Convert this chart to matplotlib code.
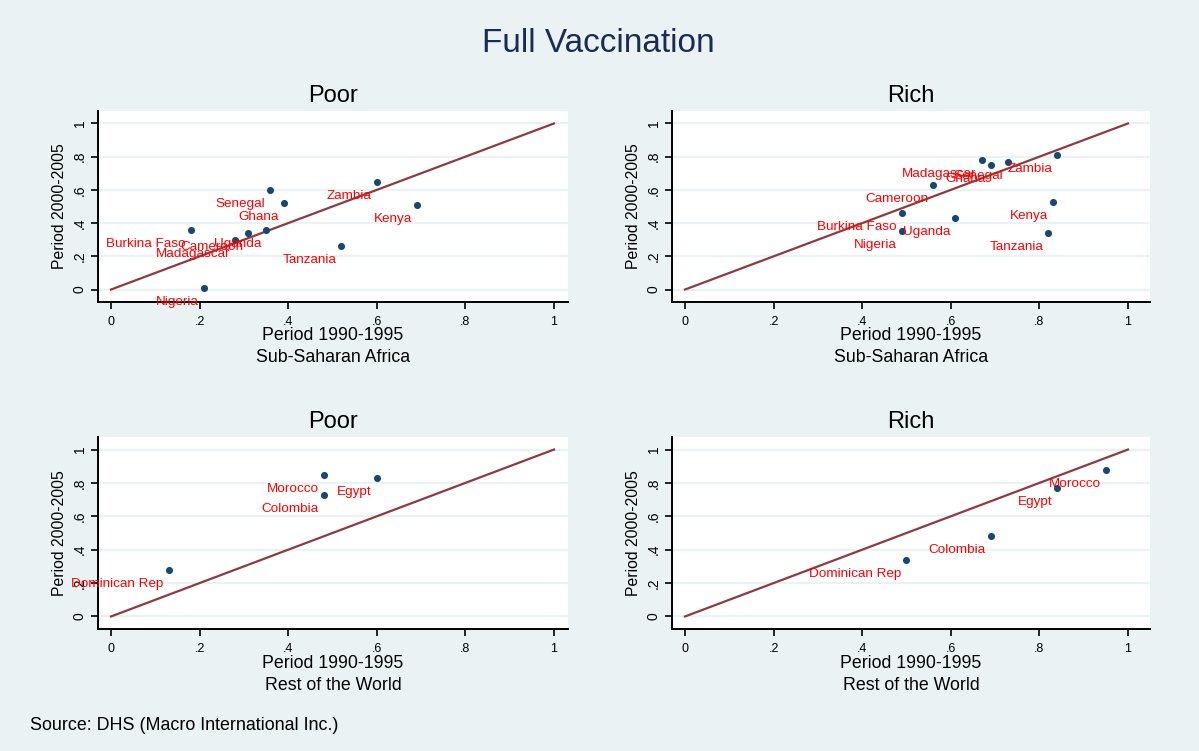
import matplotlib
matplotlib.use("Agg")
import matplotlib.pyplot as plt

plt.rcParams["font.family"] = ["Liberation Sans", "DejaVu Sans"]

# Data
ssa_names = ["Burkina Faso", "Cameroon", "Ghana", "Kenya", "Madagascar",
             "Nigeria", "Senegal", "Tanzania", "Uganda", "Zambia"]
ssa_poor_x = [0.18, 0.31, 0.39, 0.69, 0.28, 0.21, 0.36, 0.52, 0.35, 0.60]
ssa_poor_y = [0.36, 0.34, 0.52, 0.51, 0.30, 0.01, 0.60, 0.26, 0.36, 0.65]
ssa_rich_x = [0.49, 0.56, 0.69, 0.83, 0.67, 0.49, 0.73, 0.82, 0.61, 0.84]
ssa_rich_y = [0.46, 0.63, 0.75, 0.53, 0.78, 0.35, 0.765, 0.34, 0.43, 0.81]

row_names = ["Colombia", "Dominican Rep", "Egypt", "Morocco"]
row_poor_x = [0.48, 0.13, 0.60, 0.48]
row_poor_y = [0.73, 0.28, 0.83, 0.85]
row_rich_x = [0.69, 0.50, 0.84, 0.95]
row_rich_y = [0.48, 0.34, 0.77, 0.88]

ticks = [0, 0.2, 0.4, 0.6, 0.8, 1]
tick_labels = ["0", ".2", ".4", ".6", ".8", "1"]

bg = "#EAF2F3"
W, H = 1199, 751

fig = plt.figure(figsize=(W / 100, H / 100), dpi=100, facecolor=bg)

panels = [
    # (x0, x1, top, bottom) in pixels, title, region, names, x, y
    ((98, 568, 111, 302), "Poor", "Sub-Saharan Africa", ssa_names, ssa_poor_x, ssa_poor_y),
    ((672, 1150, 111, 302), "Rich", "Sub-Saharan Africa", ssa_names, ssa_rich_x, ssa_rich_y),
    ((98, 568, 437, 629), "Poor", "Rest of the World", row_names, row_poor_x, row_poor_y),
    ((672, 1150, 437, 629), "Rich", "Rest of the World", row_names, row_rich_x, row_rich_y),
]

for (x0, x1, top, bot), title, region, names, xs, ys in panels:
    ax = fig.add_axes([x0 / W, 1 - bot / H, (x1 - x0) / W, (bot - top) / H])
    ax.set_facecolor("white")
    # data x=0 sits 13px right of the left spine, x=1 sits ~443px further
    scale = 443.0
    left = -13 / scale
    right = left + (x1 - x0) / scale
    ax.set_xlim(left, right)
    ax.set_ylim(-0.075, 1.075)

    for t in ticks:
        ax.axhline(t, color=bg, lw=1.6, zorder=1)

    ax.plot([0, 1], [0, 1], color="#8E3A3E", lw=1.6, zorder=2)
    ax.scatter(xs, ys, s=26, color="#1A476F", zorder=3, linewidths=0)
    for n, xv, yv in zip(names, xs, ys):
        ax.annotate(n, (xv, yv), xytext=(-5, -14), textcoords="offset pixels",
                    ha="right", va="center", color="#FF0000", fontsize=9.7,
                    annotation_clip=False, zorder=4)

    for s in ["top", "right"]:
        ax.spines[s].set_visible(False)
    for s in ["left", "bottom"]:
        ax.spines[s].set_linewidth(1.4)
        ax.spines[s].set_color("black")

    ax.set_xticks(ticks)
    ax.set_xticklabels(tick_labels)
    ax.set_yticks(ticks)
    ax.set_yticklabels(tick_labels, rotation=90, va="center")
    ax.tick_params(axis="both", length=5, width=1.2)
    ax.tick_params(axis="x", labelsize=9, pad=5)
    ax.tick_params(axis="y", labelsize=10, pad=3)

    ax.annotate(title, (0.5, 1), xycoords="axes fraction", xytext=(0, 15),
                textcoords="offset pixels", ha="center", va="center", fontsize=17)
    ax.annotate("Period 1990-1995", (0.5, 0), xycoords="axes fraction", xytext=(0, -34),
                textcoords="offset pixels", ha="center", va="center", fontsize=12.8)
    ax.annotate(region, (0.5, 0), xycoords="axes fraction", xytext=(0, -56),
                textcoords="offset pixels", ha="center", va="center", fontsize=12.8)
    ax.annotate("Period 2000-2005", (0, 0.5), xycoords="axes fraction", xytext=(-38, 0),
                textcoords="offset pixels", ha="center", va="center", rotation=90,
                fontsize=11.3)

fig.text(598 / W, 1 - 44 / H, "Full Vaccination", ha="center", va="center",
         fontsize=24, color="#1C2B52")
fig.text(30 / W, 1 - 726 / H, "Source: DHS (Macro International Inc.)", ha="left",
         va="center", fontsize=12.9)

fig.savefig("out.png", dpi=100, facecolor=bg)
